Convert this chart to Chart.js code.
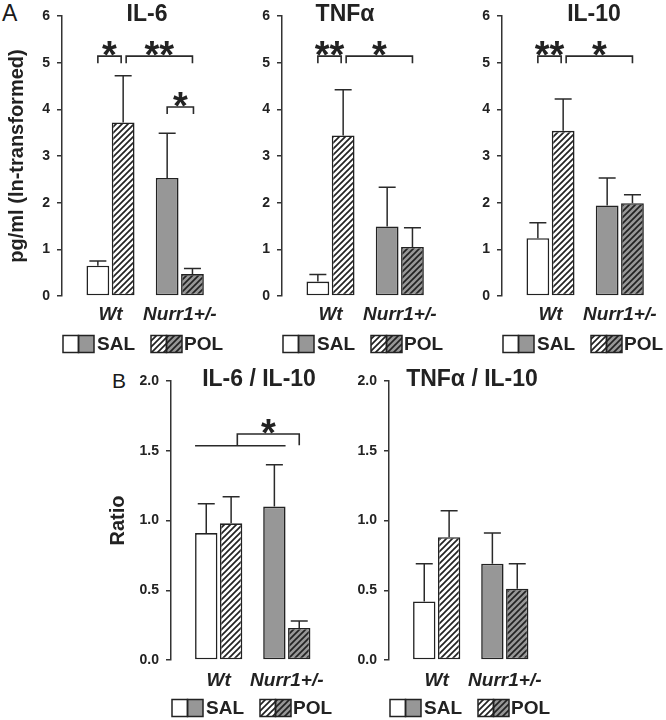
<!DOCTYPE html>
<html>
<head>
<meta charset="utf-8">
<script src="https://cdn.jsdelivr.net/npm/chart.js@4.4.1/dist/chart.umd.min.js"></script>
<style>
  html, body { margin: 0; padding: 0; background: #fff; overflow: hidden; }
  #wrap { position: relative; width: 666px; height: 720px; background: #fff; }
  canvas { position: absolute; }
  .plabel { position: absolute; font-family: "Liberation Sans", Arial, sans-serif; color: #1a1a1a; line-height: 1; }
</style>
</head>
<body>
<div id="wrap">
  <div class="plabel" style="left:2px;top:2px;font-size:23px;">A</div>
  <div class="plabel" style="left:112px;top:370px;font-size:21px;">B</div>
  <canvas id="cA1" width="226" height="360" style="left:0px;top:0px"></canvas>
  <canvas id="cA2" width="204" height="360" style="left:242px;top:0px"></canvas>
  <canvas id="cA3" width="204" height="360" style="left:462px;top:0px"></canvas>
  <canvas id="cB1" width="234" height="360" style="left:101px;top:360px"></canvas>
  <canvas id="cB2" width="204" height="360" style="left:349px;top:360px"></canvas>
</div>
<script>
// ---------------- data ----------------
const GROUPS = ['Wt', 'Nurr1+/-'];
const TREATMENTS = ['SAL', 'POL'];
const X_POS = [1, 2];
const A_TICKS = [0, 1, 2, 3, 4, 5, 6];
const A_TICK_LABELS = ['0', '1', '2', '3', '4', '5', '6'];
const B_TICKS = [0, 0.5, 1, 1.5, 2];
const B_TICK_LABELS = ['0.0', '0.5', '1.0', '1.5', '2.0'];

const IL6_SAL = [0.65, 2.53];
const IL6_SAL_ERR = [0.10, 0.96];
const IL6_POL = [3.72, 0.47];
const IL6_POL_ERR = [1.00, 0.12];

const TNF_SAL = [0.31, 1.49];
const TNF_SAL_ERR = [0.15, 0.84];
const TNF_POL = [3.44, 1.05];
const TNF_POL_ERR = [0.98, 0.41];

const IL10_SAL = [1.24, 1.94];
const IL10_SAL_ERR = [0.33, 0.59];
const IL10_POL = [3.54, 1.99];
const IL10_POL_ERR = [0.68, 0.18];

const R6_SAL = [0.91, 1.10];
const R6_SAL_ERR = [0.21, 0.30];
const R6_POL = [0.98, 0.23];
const R6_POL_ERR = [0.19, 0.05];

const RT_SAL = [0.42, 0.69];
const RT_SAL_ERR = [0.27, 0.22];
const RT_POL = [0.88, 0.51];
const RT_POL_ERR = [0.19, 0.18];

// significance annotations: [group, dataset, anchor]
const SIG_IL6 = [
  { from: [0, 0], to: [0, 1], y: 5.14, legs: [0.15, 0.15], dTo: -2, text: '*' },
  { from: [0, 1], to: [1, 1], y: 5.14, legs: [0.15, 0.15], dFrom: 3, text: '**' },
  { from: [1, 0], to: [1, 1], y: 4.05, legs: [0.15, 0.15], dTo: 1, text: '*' }
];
const SIG_TNF = [
  { from: [0, 0], to: [0, 1], y: 5.14, legs: [0.15, 0.15], dTo: -2, text: '**' },
  { from: [0, 1], to: [1, 1], y: 5.14, legs: [0.15, 0.15], dFrom: 3, text: '*' }
];
const SIG_IL10 = SIG_TNF;
const SIG_R6 = [
  { line: true, from: [0, 0, 'l'], to: [1, 0, 'r'], y: 1.536 },
  { from: { mid: [[0, 0, 'l'], [1, 0, 'r']] }, dFrom: -3, to: [1, 1], y: 1.62, legs: [0.084, 0.08], text: '*' }
];
const SIG_RT = [];

// ---------------- styles ----------------
const FONT = '"Liberation Sans", Arial, sans-serif';
Chart.defaults.font.family = FONT;
Chart.defaults.color = '#1a1a1a';
const INK = '#222';
const WHITE = '#ffffff';
const GRAY = '#979797';

function makeHatch(bg) {
  const t = document.createElement('canvas');
  const s = 6;
  t.width = s; t.height = s;
  const x = t.getContext('2d');
  x.fillStyle = bg; x.fillRect(0, 0, s, s);
  x.strokeStyle = INK; x.lineWidth = 1.7; x.lineCap = 'square';
  x.beginPath();
  x.moveTo(0, s); x.lineTo(s, 0);
  x.moveTo(-1, 1); x.lineTo(1, -1);
  x.moveTo(s - 1, s + 1); x.lineTo(s + 1, s - 1);
  x.stroke();
  return document.createElement('canvas').getContext('2d').createPattern(t, 'repeat');
}
const HATCH_W = makeHatch(WHITE);
const HATCH_G = makeHatch(GRAY);

// ---------------- plugins ----------------
function barX(chart, ref) {
  if (ref && ref.mid) {
    const a = barX(chart, ref.mid[0]), b = barX(chart, ref.mid[1]);
    return (a + b) / 2;
  }
  const bar = chart.getDatasetMeta(ref[1]).data[ref[0]];
  const a = ref[2];
  if (a === 'l') return bar.x - bar.width / 2;
  if (a === 'r') return bar.x + bar.width / 2;
  return bar.x;
}

const errorBarPlugin = {
  id: 'errbars',
  afterDatasetsDraw(chart) {
    const ctx = chart.ctx, ys = chart.scales.y;
    ctx.save();
    ctx.strokeStyle = '#2a2a2a'; ctx.lineWidth = 1.5;
    chart.data.datasets.forEach((ds, d) => {
      chart.getDatasetMeta(d).data.forEach((bar, i) => {
        const top = ys.getPixelForValue(ds.data[i].y + ds.errors[i]);
        ctx.beginPath();
        ctx.moveTo(bar.x, bar.y); ctx.lineTo(bar.x, top);
        ctx.moveTo(bar.x - 8.5, top); ctx.lineTo(bar.x + 8.5, top);
        ctx.stroke();
      });
    });
    ctx.restore();
  }
};

function sigPlugin(items) {
  return {
    id: 'sig',
    afterDatasetsDraw(chart) {
      const ctx = chart.ctx, ys = chart.scales.y;
      ctx.save();
      ctx.strokeStyle = '#2a2a2a'; ctx.lineWidth = 1.6; ctx.fillStyle = INK;
      items.forEach(it => {
        const x1 = barX(chart, it.from) + (it.dFrom || 0);
        const x2 = barX(chart, it.to) + (it.dTo || 0);
        const y = ys.getPixelForValue(it.y);
        ctx.beginPath();
        if (it.line) {
          ctx.moveTo(x1, y); ctx.lineTo(x2, y);
        } else {
          ctx.moveTo(x1, ys.getPixelForValue(it.y - it.legs[0]));
          ctx.lineTo(x1, y); ctx.lineTo(x2, y);
          ctx.lineTo(x2, ys.getPixelForValue(it.y - it.legs[1]));
        }
        ctx.stroke();
        if (it.text) {
          ctx.font = 'bold 38px ' + FONT;
          ctx.textAlign = 'center'; ctx.textBaseline = 'alphabetic';
          ctx.fillText(it.text, (x1 + x2) / 2, y - 9.5 + 21);
        }
      });
      ctx.restore();
    }
  };
}

function titlePlugin(text, dx) {
  return {
    id: 'ptitle',
    afterDraw(chart) {
      const ctx = chart.ctx, ca = chart.chartArea;
      ctx.save();
      ctx.font = 'bold 23px ' + FONT; ctx.fillStyle = INK;
      ctx.textAlign = 'center'; ctx.textBaseline = 'middle';
      ctx.fillText(text, ca.left + dx, ca.top - 1);
      ctx.restore();
    }
  };
}

function splitBox(ctx, x, y, hw, h, f1, f2) {
  ctx.fillStyle = f1; ctx.fillRect(x, y, hw, h);
  ctx.fillStyle = f2; ctx.fillRect(x + hw, y, hw, h);
  ctx.strokeStyle = INK; ctx.lineWidth = 1.5;
  ctx.strokeRect(x, y, hw, h); ctx.strokeRect(x + hw, y, hw, h);
}

const legendPlugin = {
  id: 'plegend',
  afterDraw(chart) {
    const ctx = chart.ctx, ca = chart.chartArea;
    const cy = ca.bottom + 48, L = ca.left, bh = 17, hw = 15.5;
    ctx.save();
    splitBox(ctx, L + 1, cy - bh / 2, hw, bh, WHITE, GRAY);
    splitBox(ctx, L + 89, cy - bh / 2, hw, bh, HATCH_W, HATCH_G);
    ctx.fillStyle = INK; ctx.font = 'bold 19px ' + FONT;
    ctx.textAlign = 'left'; ctx.textBaseline = 'middle';
    ctx.fillText(TREATMENTS[0], L + 35, cy + 0.5);
    ctx.fillText(TREATMENTS[1], L + 122, cy + 0.5);
    ctx.restore();
  }
};

// ---------------- chart factory ----------------
function makeChart(id, c) {
  return new Chart(document.getElementById(id), {
    type: 'bar',
    data: {
      datasets: [
        { label: TREATMENTS[0], data: X_POS.map((x, i) => ({ x: x, y: c.sal[i] })), errors: c.salErr,
          backgroundColor: [WHITE, GRAY] },
        { label: TREATMENTS[1], data: X_POS.map((x, i) => ({ x: x, y: c.pol[i] })), errors: c.polErr,
          backgroundColor: [HATCH_W, HATCH_G] }
      ]
    },
    options: {
      responsive: false,
      animation: false,
      events: [],
      layout: { padding: { top: c.padTop, right: 11, left: 0, bottom: 0 } },
      datasets: { bar: { categoryPercentage: 0.73, barPercentage: 0.9, borderWidth: 1.6,
                         borderColor: INK, borderSkipped: false } },
      scales: {
        x: {
          type: 'linear', min: 0.3, max: 2.5, offset: false,
          grid: { display: false, drawTicks: false },
          border: { display: false },
          afterBuildTicks: s => { s.ticks = X_POS.map(v => ({ value: v })); },
          afterFit: s => { s.height = c.xh; },
          ticks: { autoSkip: false, maxRotation: 0, minRotation: 0, padding: c.labelPad,
                   color: INK, font: { size: 19, weight: 'bold', style: 'italic' },
                   callback: v => { const k = X_POS.indexOf(v); return k >= 0 ? GROUPS[k] : ''; } }
        },
        y: {
          min: 0, max: c.yMax,
          afterBuildTicks: s => { s.ticks = c.ticks.map(v => ({ value: v })); },
          afterFit: s => { s.width = c.yw; },
          grid: { display: true, drawOnChartArea: false, drawTicks: true, tickLength: 5,
                  color: '#333', lineWidth: 1.5 },
          border: { display: true, color: '#333', width: 1.5 },
          ticks: { padding: 7, color: INK, font: { size: 14, weight: 'bold' },
                   callback: v => { const k = c.ticks.indexOf(v); return k >= 0 ? c.tickLabels[k] : ''; } },
          title: c.yTitle ? { display: true, text: c.yTitle, color: INK,
                              font: { size: 20, weight: 'bold' }, padding: { top: 5, bottom: 0 } }
                          : { display: false }
        }
      },
      plugins: { legend: { display: false }, tooltip: { enabled: false }, title: { display: false } }
    },
    plugins: [errorBarPlugin, sigPlugin(c.sig), titlePlugin(c.title, c.dx), legendPlugin]
  });
}

const A_BASE = { padTop: 16, xh: 64, labelPad: 7, yMax: 6, ticks: A_TICKS, tickLabels: A_TICK_LABELS };
const B_BASE = { padTop: 21, xh: 60, labelPad: 9, yMax: 2, ticks: B_TICKS, tickLabels: B_TICK_LABELS };

makeChart('cA1', Object.assign({}, A_BASE, { yw: 62, yTitle: 'pg/ml (ln-transformed)', title: 'IL-6', dx: 85,
  sal: IL6_SAL, salErr: IL6_SAL_ERR, pol: IL6_POL, polErr: IL6_POL_ERR, sig: SIG_IL6 }));
makeChart('cA2', Object.assign({}, A_BASE, { yw: 40, title: 'TNFα', dx: 63,
  sal: TNF_SAL, salErr: TNF_SAL_ERR, pol: TNF_POL, polErr: TNF_POL_ERR, sig: SIG_TNF }));
makeChart('cA3', Object.assign({}, A_BASE, { yw: 40, title: 'IL-10', dx: 92,
  sal: IL10_SAL, salErr: IL10_SAL_ERR, pol: IL10_POL, polErr: IL10_POL_ERR, sig: SIG_IL10 }));
makeChart('cB1', Object.assign({}, B_BASE, { yw: 70, yTitle: 'Ratio', title: 'IL-6 / IL-10', dx: 88,
  sal: R6_SAL, salErr: R6_SAL_ERR, pol: R6_POL, polErr: R6_POL_ERR, sig: SIG_R6 }));
makeChart('cB2', Object.assign({}, B_BASE, { yw: 40, title: 'TNFα / IL-10', dx: 83,
  sal: RT_SAL, salErr: RT_SAL_ERR, pol: RT_POL, polErr: RT_POL_ERR, sig: SIG_RT }));
</script>
</body>
</html>
